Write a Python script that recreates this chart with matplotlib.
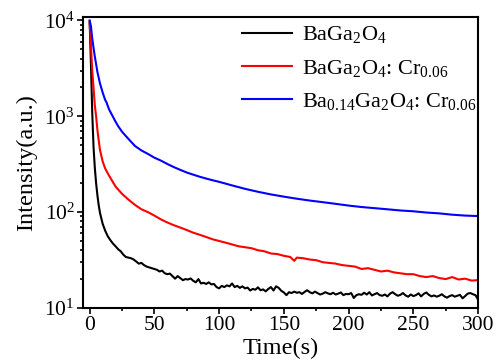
import matplotlib
matplotlib.use('Agg')
import matplotlib.pyplot as plt
from matplotlib.ticker import MultipleLocator, LogLocator, NullFormatter

# ─── Data ─────────────────────────────────────────────────────────────
black_t = [0, 1, 2, 3, 4, 5, 6, 7, 8, 9, 10, 12, 14, 16, 18, 20, 22, 24, 26, 28,
           30, 32, 34, 36, 38, 40, 42, 44, 46, 48, 50, 52, 54, 56, 58, 60, 62, 64,
           66, 68, 70, 72, 74, 76, 78, 80, 82, 84, 86, 88, 90, 92, 94, 96, 98, 100,
           102, 104, 106, 108, 110, 112, 114, 116, 118, 120, 122, 124, 126, 128,
           130, 132, 134, 136, 138, 140, 142, 144, 146, 148, 150, 152, 154, 156,
           158, 160, 162, 164, 166, 168, 170, 172, 174, 176, 178, 180, 182, 184,
           186, 188, 190, 192, 194, 196, 198, 200, 202, 204, 206, 208, 210, 212,
           214, 216, 218, 220, 222, 224, 226, 228, 230, 232, 234, 236, 238, 240,
           242, 244, 246, 248, 250, 252, 254, 256, 258, 260, 262, 264, 266, 268,
           270, 272, 274, 276, 278, 280, 282, 284, 286, 288, 290, 292, 294, 296,
           298, 300]
black_i = [9800, 3500, 1100, 480, 290, 200, 150, 118, 98, 86, 76, 64, 56, 51, 47,
           44, 41, 39, 36, 34, 33.5, 33, 32, 30.5, 29, 29.5, 28, 27, 26.5, 26, 25.5,
           25, 24, 24.5, 23, 22.5, 22.8, 21.5, 20.2, 21.5, 20.5, 19.5, 20, 19.8,
           20.3, 19.2, 18.5, 20, 18, 18.3, 17.8, 18.5, 17.6, 17.8, 16.5, 16, 17,
           16.5, 17.2, 16.8, 18, 16.5, 17, 16.2, 16.8, 16, 16.3, 15.2, 15.8, 15.5,
           16.4, 15.3, 15.6, 14.9, 15.8, 16.5, 15.2, 16.8, 16.2, 15.1, 14.5, 13.6,
           14.6, 14.3, 14.8, 14.4, 14.6, 14, 14.7, 15.3, 14.6, 14.2, 14.8, 14.3,
           13.8, 14.1, 14.6, 14.2, 13.9, 14.4, 13.8, 14.1, 14.5, 13.6, 14, 13.9,
           14.3, 12.7, 13.6, 13.9, 13.7, 14.4, 13.8, 14.6, 13.5, 13.9, 14.3, 13.6,
           13.4, 13.8, 13.2, 14.1, 14.6, 13.9, 13.4, 13.7, 14.3, 13.5, 13.1, 13.8,
           13.3, 13.6, 14.2, 13.2, 14, 14.5, 13.7, 13.2, 13.5, 13.1, 13.4, 13.9,
           13.2, 12.8, 13.3, 13.6, 13.1, 13.4, 13.7, 12.6, 13.3, 14.1, 14.3, 13.9,
           13.6, 12.2]

red_t = [0, 1, 2, 3, 4, 5, 6, 7, 8, 10, 12, 15, 20, 25, 30, 35, 40, 45, 50, 55,
         60, 65, 70, 75, 80, 85, 90, 95, 100, 105, 110, 115, 120, 125, 130, 135,
         140, 145, 150, 155, 158, 160, 165, 170, 175, 180, 185, 190, 195, 200, 205,
         210, 215, 220, 225, 230, 235, 240, 245, 250, 255, 260, 265, 270, 275, 280,
         285, 290, 295, 300]
red_i = [9400, 5500, 3000, 2000, 1300, 1000, 720, 560, 445, 340, 285, 240, 185,
         155, 135, 119, 107, 100, 92, 84, 78, 73, 69, 65, 61, 58, 55, 52, 50, 48,
         46, 44, 43, 42, 40, 39, 37, 36.5, 35, 34, 31, 33.5, 33, 32, 31.5, 30, 29.5,
         29, 28, 27.5, 27, 25.5, 26, 25, 24, 24.5, 23.5, 23, 22.5, 22.5, 21.5, 21,
         21.5, 20.5, 20, 21, 19.8, 20.2, 19.3, 19.5]

blue_t = [0, 1, 2, 3, 4, 5, 6, 8, 10, 12, 13, 15, 20, 22, 25, 30, 35, 40, 45, 50,
          55, 60, 65, 70, 75, 80, 85, 90, 95, 100, 110, 120, 130, 140, 150, 160,
          170, 180, 190, 200, 210, 220, 230, 240, 250, 260, 270, 280, 290, 300]
blue_i = [10000, 8700, 6500, 5200, 4200, 3500, 2900, 2200, 1780, 1480, 1400, 1180,
          880, 790, 690, 580, 490, 440, 405, 370, 345, 318, 295, 276, 259, 246, 234,
          224, 215, 207, 190, 175, 163, 153, 145, 138, 132, 127, 122, 117, 113, 110,
          107, 104, 102, 99, 97, 94, 92, 91]

series = [
    (black_t, black_i, 'black', r'BaGa$_2$O$_4$'),
    (red_t, red_i, 'red', r'BaGa$_2$O$_4$: Cr$_{0.06}$'),
    (blue_t, blue_i, 'blue', r'Ba$_{0.14}$Ga$_2$O$_4$: Cr$_{0.06}$'),
]

# ─── Style ────────────────────────────────────────────────────────────
plt.rcParams.update({
    'font.family': 'Liberation Serif',
    'mathtext.fontset': 'custom',
    'mathtext.rm': 'Liberation Serif',
    'mathtext.it': 'Liberation Serif:italic',
    'mathtext.bf': 'Liberation Serif:bold',
    'font.size': 16,
})

fig = plt.figure(figsize=(4.98, 3.61), dpi=100, facecolor='white')
ax = fig.add_axes([0.167, 0.147, 0.793, 0.806])

for t, y, c, lab in series:
    ax.plot(t, y, color=c, lw=1.5, label=lab)

ax.set_yscale('log')
ax.set_xlim(-5, 300)
ax.set_ylim(10, 10880)

ax.xaxis.set_major_locator(MultipleLocator(50))
ax.xaxis.set_minor_locator(MultipleLocator(25))
ax.yaxis.set_major_locator(LogLocator(base=10, numticks=10))
ax.yaxis.set_minor_locator(LogLocator(base=10, subs=range(2, 10), numticks=10))
ax.yaxis.set_minor_formatter(NullFormatter())

ax.tick_params(which='both', direction='out', width=1.2, labelsize=15.5, pad=2)
ax.tick_params(which='major', length=4)
ax.tick_params(which='minor', length=2.5)
for spine in ax.spines.values():
    spine.set_linewidth(1.5)

ax.set_xlabel('Time(s)', fontsize=17.5, labelpad=2)
ax.set_ylabel('Intensity(a.u.)', fontsize=17.5, labelpad=5)

ax.legend(loc='upper right', frameon=False, fontsize=16,
          handlelength=2.25, handletextpad=0.45, labelspacing=0.55,
          borderaxespad=0.2, bbox_to_anchor=(1.03, 1.02))

fig.savefig('out.png', dpi=100, facecolor='white')
